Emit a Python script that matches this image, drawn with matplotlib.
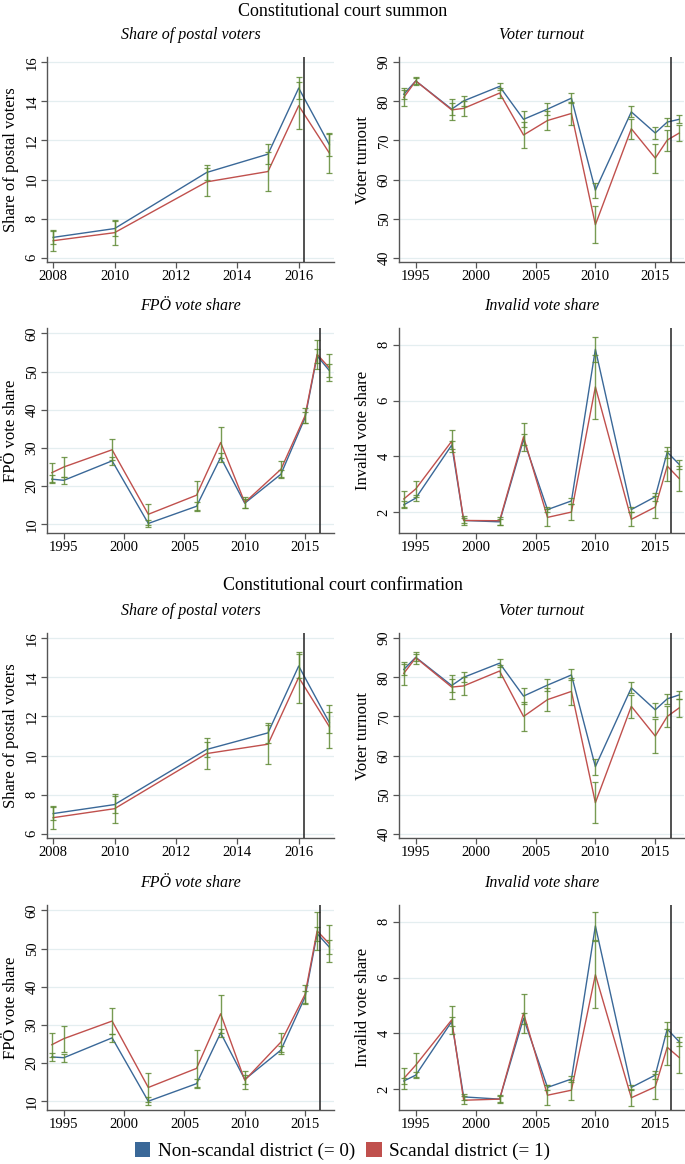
import numpy as np
import matplotlib
matplotlib.use('Agg')
import matplotlib.pyplot as plt
from matplotlib.patches import Patch

plt.rcParams['font.family'] = ['Liberation Serif', 'DejaVu Serif']

# x values (election years)
years_postal = [2008, 2010, 2013, 2015, 2016, 2017]
years_turnout = [1994, 1995, 1998, 1999, 2002, 2004, 2006, 2008, 2010, 2013, 2015, 2016, 2017]
years_fpo = [1994, 1995, 1999, 2002, 2006, 2008, 2010, 2013, 2015, 2016, 2017]
years_invalid = years_turnout

# Constitutional court summon
sum_postal_b = [7.04, 7.49, 10.36, 11.30, 14.68, 11.78]
sum_postal_r = [6.87, 7.28, 9.88, 10.41, 13.78, 11.35]
sum_postal_b_ci = [0.33, 0.40, 0.40, 0.50, 0.58, 0.58]
sum_postal_r_ci = [0.55, 0.65, 0.70, 0.98, 1.20, 1.00]

sum_turnout_b = [81.8, 85.2, 78.0, 80.1, 83.8, 75.4, 78.0, 80.8, 57.3, 77.3, 71.9, 74.7, 75.4]
sum_turnout_r = [81.0, 85.2, 77.8, 78.2, 82.1, 71.4, 75.1, 76.9, 48.5, 73.0, 65.5, 70.1, 71.9]
sum_turnout_b_ci = [1.2, 0.8, 1.5, 1.2, 0.9, 2.0, 1.5, 1.3, 1.9, 1.4, 1.5, 1.1, 1.0]
sum_turnout_r_ci = [2.3, 1.0, 2.7, 2.0, 1.3, 3.4, 2.4, 2.9, 4.7, 2.6, 3.7, 2.7, 2.0]

sum_fpo_b = [21.8, 21.5, 26.6, 10.2, 14.7, 27.5, 15.5, 23.1, 37.9, 54.1, 50.3]
sum_fpo_r = [23.5, 25.0, 29.5, 12.6, 17.6, 31.4, 15.7, 24.4, 38.4, 54.5, 51.0]
sum_fpo_b_ci = [1.0, 1.0, 1.0, 1.0, 1.2, 1.1, 1.2, 1.0, 1.5, 1.8, 1.8]
sum_fpo_r_ci = [2.5, 2.7, 2.7, 2.8, 3.8, 4.0, 1.5, 2.1, 2.0, 3.8, 3.5]

sum_invalid_b = [2.26, 2.50, 4.40, 1.70, 1.65, 4.60, 2.09, 2.40, 7.84, 2.09, 2.55, 4.15, 3.71]
sum_invalid_r = [2.47, 2.83, 4.54, 1.70, 1.69, 4.70, 1.81, 2.00, 6.49, 1.74, 2.18, 3.65, 3.20]
sum_invalid_b_ci = [0.12, 0.12, 0.15, 0.10, 0.10, 0.20, 0.10, 0.12, 0.45, 0.10, 0.15, 0.20, 0.15]
sum_invalid_r_ci = [0.30, 0.30, 0.40, 0.15, 0.15, 0.50, 0.30, 0.30, 1.15, 0.25, 0.40, 0.55, 0.45]

# Constitutional court confirmation
con_postal_b = [7.03, 7.49, 10.31, 11.16, 14.58, 11.68]
con_postal_r = [6.82, 7.28, 10.10, 10.58, 14.00, 11.47]
con_postal_b_ci = [0.35, 0.45, 0.40, 0.50, 0.60, 0.55]
con_postal_r_ci = [0.60, 0.75, 0.80, 1.00, 1.30, 1.10]

con_turnout_b = [82.0, 85.1, 77.9, 80.0, 83.6, 75.2, 78.0, 80.6, 57.2, 77.3, 71.7, 74.5, 75.5]
con_turnout_r = [81.0, 85.0, 77.5, 77.8, 81.6, 70.0, 74.3, 76.4, 48.0, 72.6, 65.0, 70.0, 72.2]
con_turnout_b_ci = [1.3, 0.9, 1.6, 1.3, 1.0, 2.1, 1.6, 1.4, 2.0, 1.4, 1.8, 1.3, 1.1]
con_turnout_r_ci = [3.0, 1.5, 3.0, 2.2, 1.5, 3.8, 2.9, 3.5, 5.2, 3.0, 4.4, 2.7, 2.3]

con_fpo_b = [21.6, 21.4, 26.6, 10.0, 14.6, 27.9, 15.7, 23.4, 37.3, 53.9, 50.4]
con_fpo_r = [24.8, 26.4, 31.0, 13.6, 18.6, 32.9, 15.5, 25.5, 38.0, 54.6, 51.3]
con_fpo_b_ci = [1.0, 1.0, 1.1, 1.0, 1.2, 1.1, 1.2, 1.0, 1.5, 1.8, 1.8]
con_fpo_r_ci = [3.2, 3.4, 3.5, 3.8, 4.8, 5.0, 2.4, 2.5, 2.5, 5.0, 4.8]

con_invalid_b = [2.29, 2.50, 4.42, 1.72, 1.64, 4.54, 2.06, 2.36, 7.85, 2.06, 2.50, 4.15, 3.70]
con_invalid_r = [2.38, 2.86, 4.48, 1.60, 1.64, 4.72, 1.78, 1.96, 6.10, 1.69, 2.08, 3.50, 3.13]
con_invalid_b_ci = [0.12, 0.12, 0.15, 0.10, 0.10, 0.20, 0.10, 0.12, 0.50, 0.10, 0.15, 0.25, 0.15]
con_invalid_r_ci = [0.38, 0.42, 0.50, 0.15, 0.15, 0.70, 0.35, 0.35, 1.20, 0.30, 0.45, 0.65, 0.55]

BLUE = '#3a6898'
RED = '#c0504d'
GREEN = '#5f8a35'
GRID = '#e4eef0'
SPINE = '#555555'


def panel(ax, x, b, r, b_ci, r_ci, title, ylabel, xlim, ylim, xticks, yticks, vline):
    ax.set_facecolor('white')
    ax.grid(axis='y', color=GRID, linewidth=0.9)
    ax.set_axisbelow(True)
    ax.plot(x, b, color=BLUE, lw=1.0, zorder=3)
    ax.plot(x, r, color=RED, lw=1.0, zorder=3)
    ax.errorbar(x, b, yerr=b_ci, fmt='none', ecolor=GREEN, elinewidth=1.0,
                capsize=2.2, capthick=0.9, alpha=0.85, zorder=4)
    ax.errorbar(x, r, yerr=r_ci, fmt='none', ecolor=GREEN, elinewidth=1.0,
                capsize=2.2, capthick=0.9, alpha=0.85, zorder=4)
    ax.axvline(vline, color='#222222', lw=1.1, zorder=5)
    ax.set_xlim(xlim)
    ax.set_ylim(ylim)
    ax.set_xticks(xticks)
    ax.set_yticks(yticks)
    for s in ['top', 'right']:
        ax.spines[s].set_visible(False)
    for s in ['left', 'bottom']:
        ax.spines[s].set_color(SPINE)
        ax.spines[s].set_linewidth(1.0)
    ax.tick_params(axis='both', labelsize=10.5, color=SPINE, length=4, width=0.9, pad=2)
    ax.tick_params(axis='y', labelrotation=90)
    for lab in ax.get_yticklabels():
        lab.set_va('center')
    ax.set_ylabel(ylabel, fontsize=12, labelpad=5)
    ax.set_title(title, fontsize=11.5, style='italic', pad=13)


fig = plt.figure(figsize=(6.85, 11.64), dpi=100)

W, H = 685.0, 1164.0
cols = [47, 399]
widths = [287, 285]
tops = [57, 328, 633, 905]
ph = 205

def make_ax(row, col):
    return fig.add_axes([cols[col] / W, 1 - (tops[row] + ph) / H, widths[col] / W, ph / H])

yr_lim = (1993.6, 2017.4)
yr_ticks = [1995, 2000, 2005, 2010, 2015]
VL = 2016.28

groups = [
    (sum_postal_b, sum_postal_r, sum_postal_b_ci, sum_postal_r_ci,
     sum_turnout_b, sum_turnout_r, sum_turnout_b_ci, sum_turnout_r_ci,
     sum_fpo_b, sum_fpo_r, sum_fpo_b_ci, sum_fpo_r_ci,
     sum_invalid_b, sum_invalid_r, sum_invalid_b_ci, sum_invalid_r_ci),
    (con_postal_b, con_postal_r, con_postal_b_ci, con_postal_r_ci,
     con_turnout_b, con_turnout_r, con_turnout_b_ci, con_turnout_r_ci,
     con_fpo_b, con_fpo_r, con_fpo_b_ci, con_fpo_r_ci,
     con_invalid_b, con_invalid_r, con_invalid_b_ci, con_invalid_r_ci),
]

for g, d in enumerate(groups):
    r0 = g * 2
    panel(make_ax(r0, 0), years_postal, d[0], d[1], d[2], d[3],
          'Share of postal voters', 'Share of postal voters',
          (2007.8, 2017.15), (5.78, 16.27), [2008, 2010, 2012, 2014, 2016],
          [6, 8, 10, 12, 14, 16], 2016.17)
    panel(make_ax(r0, 1), years_turnout, d[4], d[5], d[6], d[7],
          'Voter turnout', 'Voter turnout',
          yr_lim, (39.0, 91.3), yr_ticks, [40, 50, 60, 70, 80, 90], VL)
    panel(make_ax(r0 + 1, 0), years_fpo, d[8], d[9], d[10], d[11],
          'FPÖ vote share', 'FPÖ vote share',
          yr_lim, (7.7, 61.4), yr_ticks, [10, 20, 30, 40, 50, 60], VL)
    panel(make_ax(r0 + 1, 1), years_invalid, d[12], d[13], d[14], d[15],
          'Invalid vote share', 'Invalid vote share',
          yr_lim, (1.25, 8.6), yr_ticks, [2, 4, 6, 8], VL)

fig.text(0.5, 1 - 12 / H, 'Constitutional court summon', ha='center', va='center', fontsize=13)
fig.text(0.5, 1 - 585 / H, 'Constitutional court confirmation', ha='center', va='center', fontsize=13)

handles = [Patch(facecolor=BLUE, edgecolor='none', label='Non-scandal district (= 0)'),
           Patch(facecolor=RED, edgecolor='none', label='Scandal district (= 1)')]
fig.legend(handles=handles, loc='center', bbox_to_anchor=(0.5, 1 - 1151 / H), ncol=2,
           frameon=False, fontsize=13.8, handlelength=0.8, handleheight=0.8,
           handletextpad=0.4, columnspacing=0.6)

fig.savefig('out.png', dpi=100, facecolor='white')
